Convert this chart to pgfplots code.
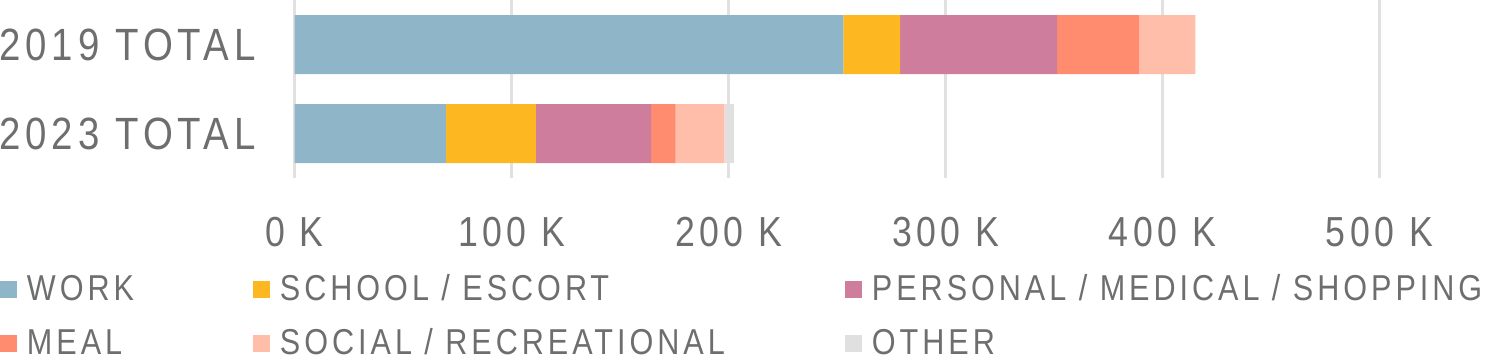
\documentclass[border=0pt]{standalone}
\usepackage{fontspec}
\setmainfont{Liberation Sans}[FakeStretch=0.85, LetterSpace=11]
\usepackage{pgfplots}
\pgfplotsset{compat=1.18}
\definecolor{cwork}{RGB}{143,182,200}
\definecolor{cschool}{RGB}{253,183,32}
\definecolor{cpers}{RGB}{206,126,156}
\definecolor{cmeal}{RGB}{255,140,110}
\definecolor{csocial}{RGB}{255,190,170}
\definecolor{cother}{RGB}{224,224,224}
\definecolor{gridgray}{RGB}{225,225,225}
\definecolor{textgray}{RGB}{110,110,110}
\begin{document}
\begin{tikzpicture}
\begin{axis}[
  scale only axis, width=542.4pt, height=89pt,
  xbar stacked, bar width=29.5pt,
  xmin=0, xmax=500000, ymin=-0.5, ymax=1.5,
  ytick={0,1}, yticklabels={\mbox{2023 TOTAL},\mbox{2019 TOTAL}},
  xtick={0,100000,200000,300000,400000,500000},
  xticklabels={\mbox{0 K},\mbox{100 K},\mbox{200 K},\mbox{300 K},\mbox{400 K},\mbox{500 K}},
  scaled x ticks=false,
  /pgf/number format/assume math mode=true,
  axis line style={draw=none}, major tick length=0pt,
  xmajorgrids, grid style={draw=gridgray, line width=1.5pt},
  xticklabel style={font=\fontsize{21}{22}\selectfont, text=textgray, anchor=north, inner sep=0pt, yshift=-19.5pt},
  yticklabel style={font=\fontsize{22.6}{23}\selectfont, text=textgray, anchor=east, inner sep=0pt, xshift=-19.4pt},
  legend columns=3,
  legend cell align=left,
  legend style={at={(axis description cs:0,0)}, anchor=north west, xshift=-147.35pt, yshift=-48pt,
    draw=none, fill=none, inner sep=0pt, outer sep=0pt,
    font=\fontsize{18}{18}\selectfont, text=textgray,
    nodes={inner sep=0pt, text height=13pt, text depth=1pt},
    /tikz/every odd column/.style={column sep=5pt}, /tikz/row sep=13pt},
  legend image code/.code={\fill[#1] (0pt,-5pt) rectangle (8.5pt,3.5pt);},
]
\addplot[fill=cwork, draw=none] coordinates {(69700,0) (252900,1)};
\addplot[fill=cschool, draw=none] coordinates {(41500,0) (26100,1)};
\addplot[fill=cpers, draw=none] coordinates {(53100,0) (72400,1)};
\addplot[fill=cmeal, draw=none] coordinates {(11300,0) (37900,1)};
\addplot[fill=csocial, draw=none] coordinates {(22600,0) (25800,1)};
\addplot[fill=cother, draw=none] coordinates {(4400,0) (0,1)};
\legend{\makebox[113pt][l]{WORK},\makebox[282.5pt][l]{SCHOOL / ESCORT},PERSONAL / MEDICAL / SHOPPING,\makebox[113pt][l]{MEAL},\makebox[282.5pt][l]{SOCIAL / RECREATIONAL},OTHER}
\end{axis}
\pgfresetboundingbox
\path ([xshift=-147.35pt]current axis.north west) rectangle ++(750pt,-180pt);
\end{tikzpicture}
\end{document}
